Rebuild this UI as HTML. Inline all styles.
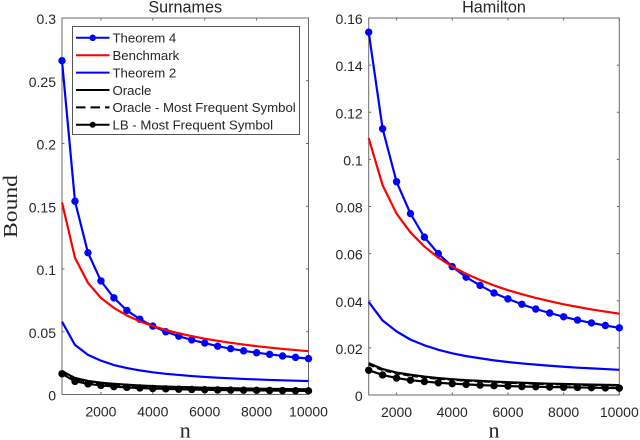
<!DOCTYPE html>
<html>
<head>
<meta charset="utf-8">
<title>Surnames and Hamilton bounds</title>
<style>
html,body{margin:0;padding:0;background:#fff;}
svg{display:block;filter:blur(0.35px);}
text{font-family:"Liberation Sans",sans-serif;fill:#262626;}
.serif{font-family:"Liberation Serif",serif;}
</style>
</head>
<body>
<svg id="chart" xmlns="http://www.w3.org/2000/svg" width="640" height="440" viewBox="0 0 640 440"></svg>
<script>
// Shared x values
const surnamesN = [500,1000,1500,2000,2500,3000,3500,4000,4500,5000,5500,6000,6500,7000,7500,8000,8500,9000,9500,10000];
const hamiltonN = [1000,1500,2000,2500,3000,3500,4000,4500,5000,5500,6000,6500,7000,7500,8000,8500,9000,9500,10000];

// Surnames series
const surnamesTheorem4 = [0.266,0.154,0.113,0.0905,0.077,0.067,0.060,0.0545,0.050,0.0465,0.0435,0.041,0.0385,0.0365,0.0348,0.0333,0.032,0.0307,0.0296,0.0286];
const surnamesBenchmark = [0.153,0.109,0.089,0.077,0.069,0.063,0.0583,0.0545,0.0514,0.0488,0.0465,0.0445,0.0428,0.0412,0.0398,0.0385,0.0374,0.0363,0.0354,0.0345];
const surnamesTheorem2 = [0.058,0.0395,0.0316,0.027,0.0235,0.0211,0.0192,0.0177,0.0165,0.0156,0.0147,0.014,0.0134,0.0129,0.0124,0.012,0.0116,0.0113,0.011,0.0107];
const surnamesOracle = [0.0185,0.0132,0.0108,0.0094,0.0085,0.0078,0.0072,0.0067,0.0063,0.006,0.0057,0.0054,0.0052,0.005,0.0048,0.0046,0.0045,0.0044,0.0042,0.0041];
const surnamesOracleMfs = [0.0175,0.0122,0.0098,0.0085,0.0076,0.0069,0.0064,0.006,0.0056,0.0053,0.0051,0.0049,0.0047,0.0045,0.0044,0.0042,0.0041,0.004,0.0039,0.0038];
const surnamesLb = [0.0165,0.0105,0.0085,0.0072,0.0063,0.0057,0.0052,0.0048,0.0045,0.0042,0.004,0.0038,0.0036,0.0035,0.0034,0.0033,0.0032,0.0031,0.003,0.0029];

// Hamilton series
const hamiltonTheorem4 = [0.154,0.113,0.0905,0.077,0.067,0.060,0.0545,0.050,0.0465,0.0433,0.0408,0.0385,0.0365,0.0348,0.0332,0.0318,0.0306,0.0295,0.0285];
const hamiltonBenchmark = [0.109,0.089,0.077,0.069,0.063,0.0583,0.0545,0.0514,0.0488,0.0465,0.0445,0.0428,0.0412,0.0398,0.0385,0.0374,0.0363,0.0354,0.0345];
const hamiltonTheorem2 = [0.0395,0.0316,0.027,0.0235,0.0211,0.0192,0.0177,0.0165,0.0156,0.0147,0.014,0.0134,0.0129,0.0124,0.012,0.0116,0.0113,0.011,0.0107];
const hamiltonOracle = [0.0135,0.011,0.0095,0.0086,0.0078,0.0072,0.0067,0.0063,0.006,0.0057,0.0054,0.0052,0.005,0.0048,0.0047,0.0045,0.0044,0.0043,0.0042];
const hamiltonOracleMfs = [0.013,0.0106,0.0092,0.0082,0.0075,0.0069,0.0065,0.0061,0.0058,0.0055,0.0052,0.005,0.0048,0.0046,0.0045,0.0043,0.0042,0.0041,0.004];
const hamiltonLb = [0.0105,0.0085,0.0072,0.0063,0.0057,0.0052,0.0048,0.0045,0.0042,0.004,0.0038,0.0036,0.0035,0.0034,0.0033,0.0032,0.0031,0.003,0.0029];

// Tick labels
const xTickValues = [2000,4000,6000,8000,10000];
const surnamesYTicks = [0,0.05,0.1,0.15,0.2,0.25,0.3];
const hamiltonYTicks = [0,0.02,0.04,0.06,0.08,0.1,0.12,0.14,0.16];

// Legend labels
const legendLabels = ['Theorem 4','Benchmark','Theorem 2','Oracle','Oracle - Most Frequent Symbol','LB - Most Frequent Symbol'];

const NS = 'http://www.w3.org/2000/svg';
const svg = document.getElementById('chart');
const AXIS = '#6a6a6a';
const BLUE = '#0000ff';
const RED = '#ff0000';
const BLACK = '#000000';

function make(tag, attrs, parent) {
  const el = document.createElementNS(NS, tag);
  for (const k in attrs) el.setAttribute(k, attrs[k]);
  (parent || svg).appendChild(el);
  return el;
}

function drawPanel(cfg) {
  const box = cfg.box;
  const sx = v => box.l + (v - cfg.xMin) / (cfg.xMax - cfg.xMin) * (box.r - box.l);
  const sy = v => box.b - (v - cfg.yMin) / (cfg.yMax - cfg.yMin) * (box.b - box.t);

  const panel = make('g', {});
  
  

  const frame = make('rect', {x: box.l, y: box.t, width: box.r - box.l, height: box.b - box.t, fill: '#fff', stroke: AXIS, 'stroke-width': 1}, panel);
  
  

  xTickValues.forEach(v => {
    const x = sx(v);
    const tick = make('path', {d: `M${x} ${box.b}v-2.5M${x} ${box.t}v2.5`, stroke: AXIS, 'stroke-width': 1, fill: 'none'}, panel);
    
    
    const label = make('text', {x: x, y: box.b + 22, 'text-anchor': 'middle', 'font-size': 14}, panel);
    label.textContent = String(v);
    
    
  });

  cfg.yTicks.forEach(v => {
    const y = sy(v);
    const tick = make('path', {d: `M${box.l} ${y}h2.5M${box.r} ${y}h-2.5`, stroke: AXIS, 'stroke-width': 1, fill: 'none'}, panel);
    
    
    const label = make('text', {x: box.l - 6, y: y + 6, 'text-anchor': 'end', 'font-size': 14}, panel);
    label.textContent = String(v);
    
    
  });

  const title = make('text', {x: (box.l + box.r) / 2, y: 12.7, 'text-anchor': 'middle', 'font-size': 16.2, fill: '#000'}, panel);
  title.textContent = cfg.title;
  
  

  const xTitle = make('text', {x: (box.l + box.r) / 2, y: 437.5, 'text-anchor': 'middle', 'font-size': 22, 'class': 'serif'}, panel);
  xTitle.textContent = 'n';
  
  

  cfg.series.forEach(s => {
    const pts = cfg.xs.map((n, i) => sx(n).toFixed(2) + ',' + sy(s.values[i]).toFixed(2)).join(' ');
    const line = make('polyline', {points: pts, fill: 'none', stroke: s.color, 'stroke-width': s.width, 'stroke-linejoin': 'round'}, panel);
    if (s.dash) line.setAttribute('stroke-dasharray', s.dash);
    
    
    if (s.marker) {
      cfg.xs.forEach((n, i) => {
        const dot = make('circle', {cx: sx(n), cy: sy(s.values[i]), r: 3.7, fill: s.color}, panel);
        
        
      });
    }
  });
}

drawPanel({
  id: 'surnames', title: 'Surnames',
  box: {l: 62, r: 308.5, t: 18, b: 394.5},
  xMin: 500, xMax: 10000, yMin: 0, yMax: 0.3,
  xs: surnamesN, yTicks: surnamesYTicks,
  series: [
    {name: 'oracle', values: surnamesOracle, color: BLACK, width: 2.2},
    {name: 'oracle-mfs', values: surnamesOracleMfs, color: BLACK, width: 2.2, dash: '6 3'},
    {name: 'lb', values: surnamesLb, color: BLACK, width: 2.2, marker: true},
    {name: 'theorem-2', values: surnamesTheorem2, color: BLUE, width: 2.2},
    {name: 'theorem-4', values: surnamesTheorem4, color: BLUE, width: 2.2, marker: true},
    {name: 'benchmark', values: surnamesBenchmark, color: RED, width: 2.2}
  ]
});

drawPanel({
  id: 'hamilton', title: 'Hamilton',
  box: {l: 368.7, r: 619.3, t: 18, b: 395},
  xMin: 1000, xMax: 10000, yMin: 0, yMax: 0.16,
  xs: hamiltonN, yTicks: hamiltonYTicks,
  series: [
    {name: 'oracle', values: hamiltonOracle, color: BLACK, width: 2.2},
    {name: 'oracle-mfs', values: hamiltonOracleMfs, color: BLACK, width: 2.2, dash: '6 3'},
    {name: 'lb', values: hamiltonLb, color: BLACK, width: 2.2, marker: true},
    {name: 'theorem-2', values: hamiltonTheorem2, color: BLUE, width: 2.2},
    {name: 'theorem-4', values: hamiltonTheorem4, color: BLUE, width: 2.2, marker: true},
    {name: 'benchmark', values: hamiltonBenchmark, color: RED, width: 2.2}
  ]
});

const yTitle = make('text', {x: 0, y: 0, transform: 'translate(17 206.5) rotate(-90)', 'text-anchor': 'middle', 'font-size': 20, textLength: 63, lengthAdjust: 'spacingAndGlyphs', 'class': 'serif'});
yTitle.textContent = 'Bound';



// Legend
const legend = make('g', {});


const legendBox = make('rect', {x: 72.5, y: 26.5, width: 227, height: 108, fill: '#fff', stroke: '#555', 'stroke-width': 1}, legend);



const legendStyles = [
  {color: BLUE, marker: true},
  {color: RED},
  {color: BLUE},
  {color: BLACK},
  {color: BLACK, dash: '9.5 5'},
  {color: BLACK, marker: true}
];
legendLabels.forEach((label, i) => {
  const y = 37.8 + i * 17.4;
  const st = legendStyles[i];
  const entry = make('g', {}, legend);
  
  
  const ln = make('line', {x1: 76, x2: 109.5, y1: y, y2: y, stroke: st.color, 'stroke-width': 2}, entry);
  if (st.dash) ln.setAttribute('stroke-dasharray', st.dash);
  if (st.marker) make('circle', {cx: 92.7, cy: y, r: st.color === BLUE ? 3.3 : 3, fill: st.color}, entry);
  const t = make('text', {x: 112.5, y: y + 4.8, 'font-size': 13.2, fill: '#111'}, entry);
  t.textContent = label;
});
</script>
</body>
</html>
